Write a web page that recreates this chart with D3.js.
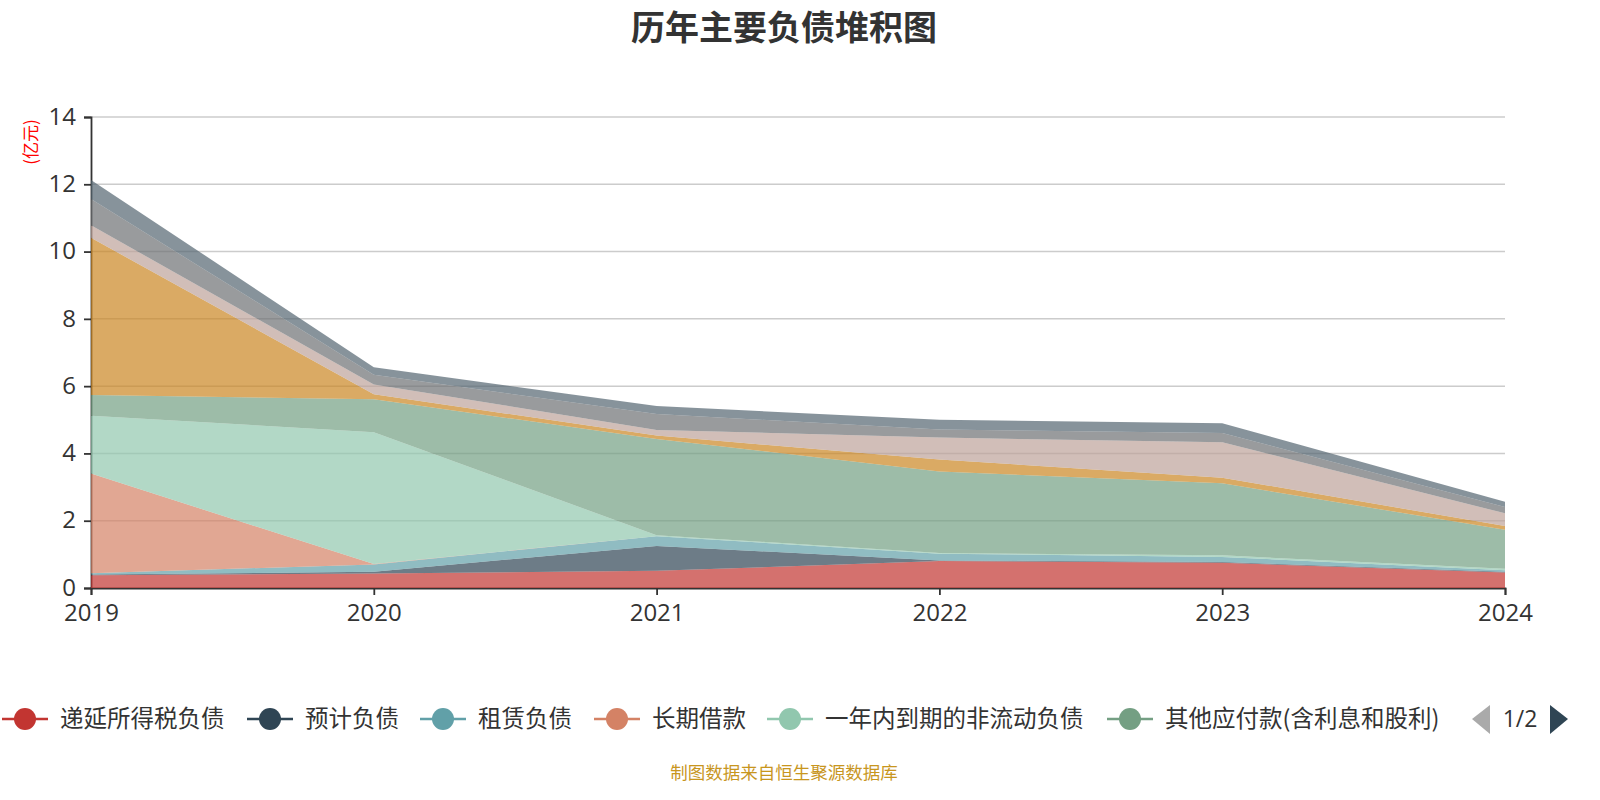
<!DOCTYPE html>
<html><head><meta charset="utf-8">
<script src="https://cdn.jsdelivr.net/npm/d3@7/dist/d3.min.js"></script>
<style>body{margin:0;background:#fff;}svg{display:block;font-family:"Noto Sans CJK SC","Noto Sans",sans-serif;}</style>
</head><body><svg id="c" width="1600" height="800"></svg>
<script>
const years = ["2019","2020","2021","2022","2023","2024"];
const seriesNames = ["递延所得税负债","预计负债","租赁负债","长期借款","一年内到期的非流动负债","其他应付款(含利息和股利)","短期借款","应付账款","合同负债","应付职工薪酬"];
const s递延所得税负债 = [0.38, 0.43, 0.51, 0.80, 0.75, 0.46];
const s预计负债 = [0.02, 0.05, 0.74, 0.02, 0.02, 0.02];
const s租赁负债 = [0.04, 0.22, 0.29, 0.20, 0.15, 0.05];
const s长期借款 = [2.96, 0.01, 0, 0, 0, 0];
const s一年内到期 = [1.72, 3.92, 0.03, 0.02, 0.05, 0.04];
const s其他应付款 = [0.62, 0.98, 2.86, 2.42, 2.14, 1.16];
const s短期借款 = [4.67, 0.15, 0.10, 0.36, 0.17, 0.11];
const s应付账款 = [0.37, 0.29, 0.17, 0.65, 1.05, 0.38];
const s合同负债 = [0.78, 0.29, 0.47, 0.24, 0.28, 0.19];
const s应付职工薪酬 = [0.57, 0.22, 0.24, 0.29, 0.29, 0.15];
const yTicks = [0, 2, 4, 6, 8, 10, 12, 14];
const colors = ["#c23531","#2f4554","#61a0a8","#d48265","#91c7ae","#749f83","#ca8622","#bda29a","#6e7074","#546570"];

const allSeries = [s递延所得税负债,s预计负债,s租赁负债,s长期借款,s一年内到期,s其他应付款,s短期借款,s应付账款,s合同负债,s应付职工薪酬];
const table = years.map((y,i)=>{const o={year:y}; seriesNames.forEach((n,k)=>o[n]=allSeries[k][i]); return o;});

const svg = d3.select("#c");
const L=91,R=1505,T=117,B=588;
const x = d3.scalePoint().domain(years).range([L,R]);
const y = d3.scaleLinear().domain([0,14]).range([B,T]);

// grid
svg.append("g").selectAll("line").data(yTicks.filter(d=>d>0)).join("line")
  .attr("x1",L).attr("x2",R).attr("y1",d=>y(d)).attr("y2",d=>y(d))
  .attr("stroke","#ccc").attr("stroke-width",1.5);

// axes (beneath areas)
const yAxis = svg.append("g").attr("transform",`translate(${L},0)`)
  .call(d3.axisLeft(y).tickValues(yTicks).tickSize(7).tickPadding(8));
const xAxis = svg.append("g").attr("transform",`translate(0,${B})`)
  .call(d3.axisBottom(x).tickSize(7).tickPadding(9));
[yAxis,xAxis].forEach(a=>{
  a.select(".domain").attr("stroke","#333").attr("stroke-width",1.8);
  a.selectAll(".tick line").attr("stroke","#333").attr("stroke-width",1.8);
  a.selectAll(".tick text").attr("fill","#333").style("font-size","24px").style("font-family","'Open Sans','Noto Sans',sans-serif");
});
yAxis.selectAll(".tick text").attr("dy","0.3em");

// stacked areas
const stack = d3.stack().keys(seriesNames);
const layers = stack(table);
const area = d3.area().x(d=>x(d.data.year)).y0(d=>y(d[0])).y1(d=>y(d[1]));
svg.append("g").selectAll("path").data(layers).join("path")
  .attr("d",area).attr("fill",(d,i)=>colors[i]).attr("fill-opacity",0.7);

// unit label
svg.append("text").attr("transform","translate(37,142) rotate(-90)")
  .attr("text-anchor","middle").attr("fill","#ff0000").style("font-size","17px").text("(亿元)");

// title
svg.append("text").attr("x",784).attr("y",40).attr("text-anchor","middle")
  .attr("fill","#333").style("font-size","34px").style("font-weight","bold").text("历年主要负债堆积图");

// legend page 1
const legendX = [0,245,418,592,765,1105];
const lg = svg.append("g");
seriesNames.slice(0,6).forEach((n,i)=>{
  const g = lg.append("g").attr("transform",`translate(${legendX[i]},719)`);
  g.append("line").attr("x1",2).attr("x2",48).attr("y1",0).attr("y2",0).attr("stroke",colors[i]).attr("stroke-width",2.5);
  g.append("circle").attr("cx",25).attr("cy",0).attr("r",11).attr("fill",colors[i]);
  g.append("text").attr("x",60).attr("y",8).attr("fill","#333").style("font-size","23.5px").text(n);
});
// pager
svg.append("path").attr("d","M1490,705 L1472,719 L1490,734 Z").attr("fill","#aaa");
svg.append("text").attr("x",1520).attr("y",727).attr("text-anchor","middle").attr("fill","#333").style("font-size","23px").style("font-family","'Open Sans','Noto Sans',sans-serif").text("1/2");
svg.append("path").attr("d","M1550,705 L1568,719 L1550,734 Z").attr("fill","#2f4554");

// source
svg.append("text").attr("x",784).attr("y",779).attr("text-anchor","middle").attr("fill","#c8961e").style("font-size","17.5px").text("制图数据来自恒生聚源数据库");
</script></body></html>
